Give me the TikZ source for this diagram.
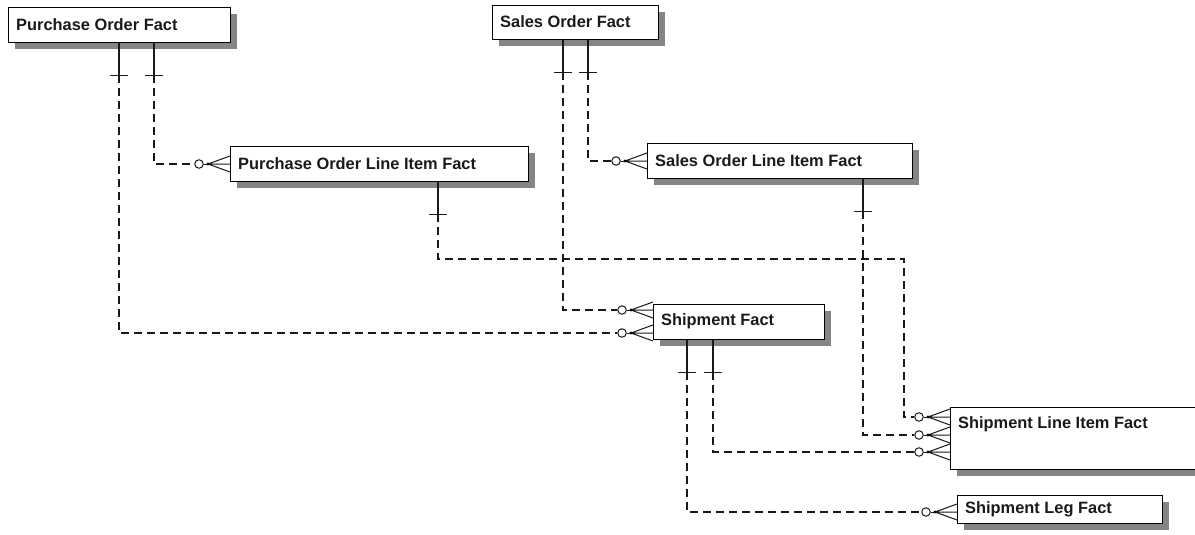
\documentclass[tikz,border=0pt]{standalone}
\usepackage{fontspec}
\setmainfont{Liberation Sans}
\usetikzlibrary{shadows,calc}
\definecolor{txtc}{HTML}{1A1A1A}
\definecolor{shade}{HTML}{858585}
\tikzset{
  x=1pt, y=-1pt,
  ent/.style={draw=black, line width=1.2pt, fill=white, rectangle, inner sep=0pt,
    anchor=north west,
    drop shadow={shadow xshift=6pt, shadow yshift=-6pt, fill=shade, opacity=1}},
  lbl/.style={anchor=west, inner sep=0pt, text=txtc,
    font=\bfseries\fontsize{16.4}{18}\selectfont},
  solidln/.style={draw=black!90, line width=1.2pt},
  dashln/.style={draw=black!90, line width=1.2pt, dash pattern=on 8pt off 5pt},
  barln/.style={draw=black!90, line width=1.2pt},
  crowln/.style={draw=black!90, line width=1pt},
}
% one-bar start: #1 start coordinate name, #2 bar coordinate name
\newcommand{\onebar}[2]{%
  \draw[solidln] (#1) -- ++(0,32) coordinate (#2);
  \draw[barln] ($(#2)+(-9,0)$) -- ($(#2)+(9,0)$);
}
% zero-or-many end: #1 end point on box edge, #2 circle name
\newcommand{\crowend}[2]{%
  \node[circle, draw=black!90, line width=1pt, fill=white, minimum size=8.5pt, inner sep=0pt]
    (#2) at ($(#1)+(-31,0)$) {};
  \draw[crowln] ($(#1)+(-22,0)$) -- ($(#1)+(0,-8)$)
                ($(#1)+(-22,0)$) -- (#1)
                ($(#1)+(-22,0)$) -- ($(#1)+(0,8)$);
  \fill[black] ($(#1)+(-22,0)$) circle (1.7pt);
  \draw[crowln] (#2.east) -- ($(#1)+(-22,0)$);
}
\begin{document}
\begin{tikzpicture}
\useasboundingbox (0,0) rectangle (1195,535);

% entities
\node[ent, minimum width=222pt, minimum height=35pt] (po) at (8,7) {};
\node[lbl] (pot) at ($(po.north west)+(8,17.5)$) {Purchase Order Fact};
\node[ent, minimum width=166pt, minimum height=34pt] (so) at (492,5) {};
\node[lbl] (sot) at ($(so.north west)+(8,17)$) {Sales Order Fact};
\node[ent, minimum width=298pt, minimum height=35pt] (poli) at (230,146) {};
\node[lbl] (polit) at ($(poli.north west)+(8,17.5)$) {Purchase Order Line Item Fact};
\node[ent, minimum width=265pt, minimum height=35pt] (soli) at (647,143) {};
\node[lbl] (solit) at ($(soli.north west)+(8,17.5)$) {Sales Order Line Item Fact};
\node[ent, minimum width=171pt, minimum height=35pt] (sf) at (653,304) {};
\node[lbl] (sft) at ($(sf.north west)+(8,17.5)$) {Shipment Fact};
\node[ent, minimum width=260pt, minimum height=62pt] (sli) at (950,407) {};
\node[lbl] (slit) at ($(sli.north west)+(8,17.5)$) {Shipment Line Item Fact};
\node[ent, minimum width=205pt, minimum height=28pt] (slf) at (957,495) {};
\node[lbl] (slft) at ($(slf.north west)+(8,14)$) {Shipment Leg Fact};

% connection points
\coordinate (poA) at ($(po.south west)+(111,0)$);
\coordinate (poB) at ($(po.south west)+(146,0)$);
\coordinate (soA) at ($(so.south west)+(71,0)$);
\coordinate (soB) at ($(so.south west)+(96,0)$);
\coordinate (poliA) at ($(poli.south west)+(208,0)$);
\coordinate (soliA) at ($(soli.south west)+(216,0)$);
\coordinate (sfA) at ($(sf.south west)+(34,0)$);
\coordinate (sfB) at ($(sf.south west)+(60,0)$);

\coordinate (poliE) at ($(poli.north west)+(0,18)$);
\coordinate (soliE) at ($(soli.north west)+(0,18)$);
\coordinate (sfE1) at ($(sf.north west)+(0,6)$);
\coordinate (sfE2) at ($(sf.north west)+(0,29)$);
\coordinate (sliE1) at ($(sli.north west)+(0,10)$);
\coordinate (sliE2) at ($(sli.north west)+(0,28)$);
\coordinate (sliE3) at ($(sli.north west)+(0,45)$);
\coordinate (slfE) at ($(slf.north west)+(0,17)$);

% Purchase Order Fact -> Shipment Fact
\onebar{poA}{poAb}
\crowend{sfE2}{c1}
\draw[dashln] (poAb) |- (c1.west);
% Purchase Order Fact -> Purchase Order Line Item Fact
\onebar{poB}{poBb}
\crowend{poliE}{c2}
\draw[dashln] (poBb) |- (c2.west);
% Sales Order Fact -> Shipment Fact
\onebar{soA}{soAb}
\crowend{sfE1}{c3}
\draw[dashln] (soAb) |- (c3.west);
% Sales Order Fact -> Sales Order Line Item Fact
\onebar{soB}{soBb}
\crowend{soliE}{c4}
\draw[dashln] (soBb) |- (c4.west);
% Purchase Order Line Item Fact -> Shipment Line Item Fact
\onebar{poliA}{poliAb}
\crowend{sliE1}{c5}
\coordinate (k1) at (904,259);
\draw[dashln] (poliAb) |- (k1) |- (c5.west);
% Sales Order Line Item Fact -> Shipment Line Item Fact
\onebar{soliA}{soliAb}
\crowend{sliE2}{c6}
\draw[dashln] (soliAb) |- (c6.west);
% Shipment Fact -> Shipment Line Item Fact
\onebar{sfB}{sfBb}
\crowend{sliE3}{c7}
\draw[dashln] (sfBb) |- (c7.west);
% Shipment Fact -> Shipment Leg Fact
\onebar{sfA}{sfAb}
\crowend{slfE}{c8}
\draw[dashln] (sfAb) |- (c8.west);
\end{tikzpicture}
\end{document}
